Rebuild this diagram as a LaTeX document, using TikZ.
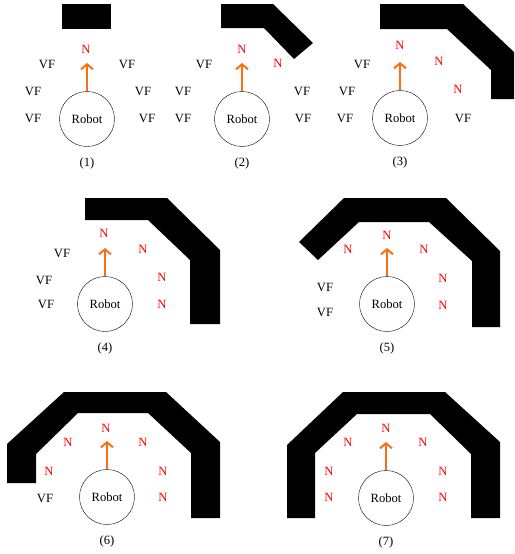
\documentclass[tikz,border=0pt]{standalone}
\usepackage{fontspec}
\setmainfont{Liberation Serif}
\usetikzlibrary{arrows.meta}
\definecolor{headorange}{RGB}{250,110,20}
\begin{document}
\begin{tikzpicture}[x=1pt, y=-1pt, font=\fontsize{12.6}{14}\selectfont,
    robot/.style={draw, circle, minimum size=55pt, inner sep=0pt},
    vf/.style={inner sep=0pt},
    near/.style={text=red, inner sep=0pt},
    heading/.style={draw=headorange, line width=2pt, -{Straight Barb[length=5pt, width=12pt]}},
    wall/.style={fill=black}]
  \useasboundingbox (0,0) rectangle (514,554);

  % robots, headings and captions
  \foreach \p/\cx/\cy in {1/87/119, 2/242/119, 3/400/118, 4/105/304,
                          5/387/304, 6/107/497, 7/386/498} {
    \node[robot] (robot\p) at (\cx,\cy) {Robot};
    \coordinate (goal\p) at (\cx,\cy-56);
    \draw[heading] (robot\p.north) -- (goal\p);
    \node (cap\p) at (\cx,\cy+44) {(\p)};
  }

  % walls
  \fill[wall] (62,4) rectangle (111,29);
  \fill[wall] (221,4) -- (273,4) -- (313,43) -- (294,59) -- (264,28) -- (221,28) -- cycle;
  \fill[wall] (380,4) -- (463,4) -- (514,52) -- (514,99) -- (491,99) -- (491,70)
    -- (447,29) -- (380,29) -- cycle;
  \fill[wall] (85,198) -- (167,198) -- (220,250) -- (220,324) -- (190,324) -- (190,260)
    -- (148,220) -- (85,220) -- cycle;
  \fill[wall] (299,242) -- (344,198) -- (446,198) -- (500,251) -- (500,327) -- (472,327)
    -- (472,261) -- (429,222) -- (359,222) -- (318,260) -- cycle;
  \fill[wall] (7,483) -- (7,444) -- (64,392) -- (166,392) -- (220,442) -- (220,518)
    -- (191,518) -- (191,453) -- (148,413) -- (78,413) -- (36,454) -- (36,483) -- cycle;
  \fill[wall] (287,518) -- (287,445) -- (343,392) -- (445,392) -- (500,442) -- (500,518)
    -- (471,518) -- (471,454) -- (430,414) -- (357,414) -- (315,453) -- (315,518) -- cycle;

  % free cells
  \foreach \x/\y [count=\i] in {47/64, 33/91, 33/118, 127/64, 143/91, 147/118,
                                204/64, 183/91, 183/118, 302/91, 303/118,
                                362/64, 347/91, 345/118, 463/118,
                                62/253, 44/280, 46/304,
                                325/287, 325/312,
                                45/498} {
    \node[vf] (vf\i) at (\x,\y) {VF};
  }

  % cells near a wall
  \foreach \x/\y [count=\i] in {86/49,
                                242/49, 278/63,
                                400/45, 439/61, 458/89,
                                104/233, 143/249, 162/277, 162/304,
                                387/235, 348/249, 424/249, 443/278, 443/305,
                                106/428, 68/442, 143/442, 49/471, 163/471, 163/497,
                                386/428, 348/442, 423/442, 329/471, 443/471, 329/497, 443/497} {
    \node[near] (n\i) at (\x,\y) {N};
  }
\end{tikzpicture}
\end{document}
